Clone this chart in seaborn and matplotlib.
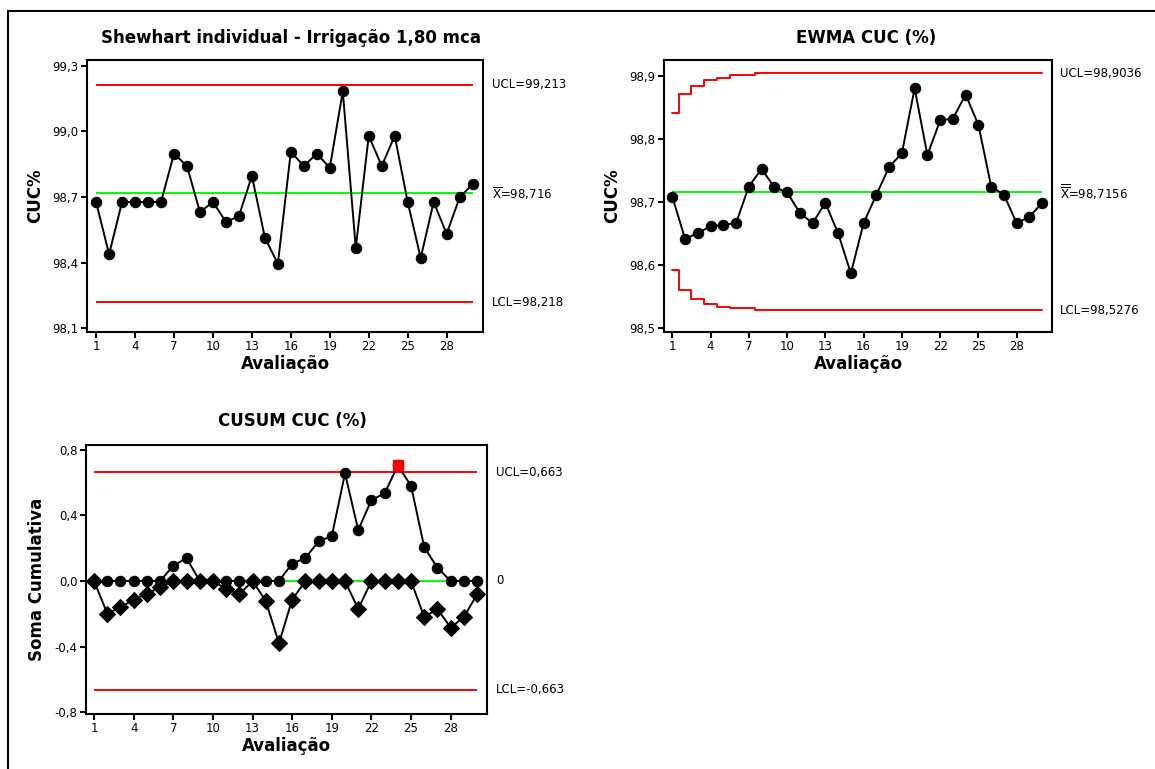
import matplotlib
matplotlib.use('Agg')
import matplotlib.pyplot as plt
import matplotlib.transforms as mtransforms
from matplotlib.lines import Line2D
import seaborn as sns
import pandas as pd

# ---------------- data ----------------
obs = list(range(1, 31))

cuc = [98.677, 98.438, 98.677, 98.677, 98.677, 98.677, 98.898, 98.842, 98.631, 98.677,
       98.586, 98.612, 98.797, 98.514, 98.394, 98.907, 98.842, 98.898, 98.834, 99.183,
       98.467, 98.980, 98.842, 98.980, 98.677, 98.421, 98.677, 98.531, 98.698, 98.759]
shew_ucl, shew_cl, shew_lcl = 99.213, 98.716, 98.218

ewma = [98.708, 98.641, 98.650, 98.661, 98.663, 98.666, 98.724, 98.752, 98.723, 98.715,
        98.682, 98.666, 98.698, 98.650, 98.586, 98.666, 98.711, 98.755, 98.777, 98.880,
        98.774, 98.829, 98.832, 98.870, 98.822, 98.724, 98.711, 98.666, 98.676, 98.698]
ewma_ucl = [98.841, 98.871, 98.884, 98.894, 98.897, 98.9005, 98.9005] + [98.9036] * 23
ewma_lcl = [98.591, 98.560, 98.546, 98.537, 98.533, 98.531, 98.531] + [98.5276] * 23
ewma_cl = 98.7156

cusum_up = [0, 0, 0, 0, 0, 0, 0.093, 0.140, 0, 0,
            0, 0, 0, 0, 0, 0.106, 0.140, 0.242, 0.274, 0.657,
            0.311, 0.494, 0.535, 0.705, 0.581, 0.205, 0.081, 0, 0, 0]
cusum_lo = [0, -0.199, -0.161, -0.114, -0.077, -0.039, 0, 0, 0, 0,
            -0.049, -0.081, 0, -0.122, -0.380, -0.114, 0, 0, 0, 0,
            -0.171, 0, 0, 0, 0, -0.220, -0.171, -0.285, -0.220, -0.081]
cusum_ucl, cusum_cl, cusum_lcl = 0.663, 0.0, -0.663
cusum_out = [24]  # out-of-control point (upper CUSUM)

xticks = [1, 4, 7, 10, 13, 16, 19, 22, 25, 28]
shew_yticks = [98.1, 98.4, 98.7, 99.0, 99.3]
ewma_yticks = [98.5, 98.6, 98.7, 98.8, 98.9]
cusum_yticks = [-0.8, -0.4, 0.0, 0.4, 0.8]

# ---------------- style ----------------
sns.set_theme(style='white')
plt.rcParams['font.family'] = ['DejaVu Sans']
plt.rcParams['mathtext.fontset'] = 'dejavusans'
plt.rcParams['text.color'] = 'black'
plt.rcParams['axes.labelcolor'] = 'black'
plt.rcParams['xtick.color'] = 'black'
plt.rcParams['ytick.color'] = 'black'

RED = '#ff0000'
GREEN = '#00ff00'
LW = 1.4
TICKFS = 8.5

fig = plt.figure(figsize=(11.55, 7.69), dpi=100)
W, H = 1155, 769


def add_ax(l, t, r, b):
    return fig.add_axes([l / W, 1 - b / H, (r - l) / W, (b - t) / H])


def fmt(v, nd=1):
    return f"{v:.{nd}f}".replace('.', ',')


def style_ax(ax, xlim, ylim, yticks):
    ax.set_xlim(*xlim)
    ax.set_ylim(*ylim)
    ax.set_xticks(xticks)
    ax.set_xticklabels([str(t) for t in xticks], fontsize=TICKFS)
    ax.set_yticks(yticks)
    ax.set_yticklabels([fmt(t) for t in yticks], fontsize=TICKFS)
    for s in ax.spines.values():
        s.set_color('black')
        s.set_linewidth(1.5)
    ax.tick_params(axis='both', direction='out', length=4, width=1.5, color='black',
                   pad=2, bottom=True, left=True, labelcolor='black')
    ax.set_xlabel('Avaliação', fontsize=12, fontweight='bold', labelpad=1, color='black')


def right_labels(ax, xfrac, items):
    tr = mtransforms.blended_transform_factory(ax.transAxes, ax.transData)
    for y, s in items:
        ax.text(xfrac, y, s, transform=tr, fontsize=TICKFS, va='center', ha='left',
                clip_on=False, color='black')


# ---------------- Shewhart ----------------
ax1 = add_ax(87, 60, 483, 332)
ax1.hlines([shew_ucl, shew_lcl], 1, 30, color=RED, lw=LW)
ax1.hlines(shew_cl, 1, 30, color=GREEN, lw=LW)
sns.lineplot(x=obs, y=cuc, ax=ax1, color='black', lw=LW, marker='o', markersize=7.5,
             markeredgecolor='black', markerfacecolor='black')
style_ax(ax1, (0.3, 30.8), (98.082, 99.327), shew_yticks)
ax1.set_ylabel('CUC%', fontsize=12, fontweight='bold', labelpad=6, color='black')
right_labels(ax1, 1.023, [(shew_ucl, 'UCL=' + fmt(shew_ucl, 3)),
                          (shew_cl, r'$\overline{\mathrm{X}}$=' + fmt(shew_cl, 3)),
                          (shew_lcl, 'LCL=' + fmt(shew_lcl, 3))])
fig.text(291 / W, 1 - 38 / H, 'Shewhart individual - Irrigação 1,80 mca',
         fontsize=12, fontweight='bold', ha='center', va='center', color='black')

# ---------------- EWMA ----------------
ax2 = add_ax(664, 60, 1052, 332)
ax2.plot(obs, ewma_ucl, color=RED, lw=LW, drawstyle='steps-mid')
ax2.plot(obs, ewma_lcl, color=RED, lw=LW, drawstyle='steps-mid')
ax2.hlines(ewma_cl, 1, 30, color=GREEN, lw=LW)
sns.lineplot(x=obs, y=ewma, ax=ax2, color='black', lw=LW, marker='o', markersize=7.5,
             markeredgecolor='black', markerfacecolor='black')
style_ax(ax2, (0.35, 30.77), (98.493, 98.925), ewma_yticks)
ax2.set_ylabel('CUC%', fontsize=12, fontweight='bold', labelpad=6, color='black')
right_labels(ax2, 1.0206, [(ewma_ucl[-1], 'UCL=' + fmt(ewma_ucl[-1], 4)),
                           (ewma_cl, r'$\overline{\overline{\mathrm{X}}}$=' + fmt(ewma_cl, 4)),
                           (ewma_lcl[-1], 'LCL=' + fmt(ewma_lcl[-1], 4))])
fig.text(866 / W, 1 - 38 / H, 'EWMA CUC (%)', fontsize=12, fontweight='bold',
         ha='center', va='center', color='black')

# ---------------- CUSUM ----------------
ax3 = add_ax(86, 445, 487, 714)
ax3.hlines([cusum_ucl, cusum_lcl], 1, 30, color=RED, lw=LW)
ax3.hlines(cusum_cl, 1, 30, color=GREEN, lw=LW)
sns.lineplot(x=obs, y=cusum_up, ax=ax3, color='black', lw=LW, marker='o', markersize=7.5,
             markeredgecolor='black', markerfacecolor='black')
sns.lineplot(x=obs, y=cusum_lo, ax=ax3, color='black', lw=LW, marker='D', markersize=8.5,
             markeredgecolor='black', markerfacecolor='black')
ox = [o for o in cusum_out]
oy = [cusum_up[o - 1] for o in cusum_out]
ax3.plot(ox, oy, linestyle='none', marker='s', markersize=7.5, color=RED, zorder=5)
style_ax(ax3, (0.39, 30.75), (-0.812, 0.83), cusum_yticks)
ax3.set_ylabel('Soma Cumulativa', fontsize=12, fontweight='bold', labelpad=6, color='black')
right_labels(ax3, 1.0224, [(cusum_ucl, 'UCL=' + fmt(cusum_ucl, 3)),
                           (cusum_cl, '0'),
                           (cusum_lcl, 'LCL=' + fmt(cusum_lcl, 3))])
fig.text(292 / W, 1 - 421 / H, 'CUSUM CUC (%)', fontsize=12, fontweight='bold',
         ha='center', va='center', color='black')

# outer frame (top and left edges)
fig.add_artist(Line2D([7.5 / W, 1.0], [1 - 11 / H, 1 - 11 / H], color='black', lw=1.5,
                      transform=fig.transFigure))
fig.add_artist(Line2D([7.5 / W, 7.5 / W], [0.0, 1 - 11 / H], color='black', lw=1.5,
                      transform=fig.transFigure))

fig.savefig('out.png', dpi=100)
